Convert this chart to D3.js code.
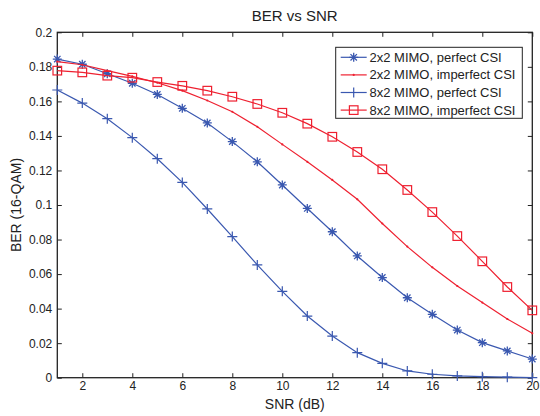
<!DOCTYPE html>
<html><head><meta charset="utf-8">
<script src="https://cdn.jsdelivr.net/npm/d3@7"></script>
<style>body{margin:0;background:#fff}svg{display:block}text{font-family:"Liberation Sans",Arial,sans-serif;fill:#222}</style>
</head><body><svg id="c" width="540" height="416"></svg>
<script>
const snr = [1,2,3,4,5,6,7,8,9,10,11,12,13,14,15,16,17,18,19,20];
const ber2x2Perfect = [0.1845,0.1815,0.176,0.1705,0.164,0.156,0.1475,0.1367,0.125,0.1116,0.098,0.0845,0.0705,0.058,0.0463,0.0367,0.0276,0.0203,0.0155,0.0108];
const ber2x2Imperfect = [0.183,0.1812,0.1778,0.1745,0.1708,0.1662,0.1605,0.154,0.1453,0.1351,0.125,0.1145,0.1033,0.0893,0.0759,0.0639,0.0531,0.0435,0.034,0.0257];
const ber8x2Perfect = [0.1666,0.159,0.15,0.139,0.1268,0.1131,0.0977,0.0817,0.0653,0.05,0.0357,0.0241,0.0145,0.0083,0.0039,0.002,0.001,0.0006,0.0003,0.0001];
const ber8x2Imperfect = [0.1778,0.1768,0.1749,0.1737,0.1712,0.169,0.1662,0.1627,0.1585,0.1534,0.1471,0.1395,0.1307,0.1207,0.1087,0.0959,0.082,0.0674,0.0525,0.039];
const seriesNames = ["2x2 MIMO, perfect CSI","2x2 MIMO, imperfect CSI","8x2 MIMO, perfect CSI","8x2 MIMO, imperfect CSI"];
const xTicks = [2,4,6,8,10,12,14,16,18,20];
const yTicks = [0,0.02,0.04,0.06,0.08,0.1,0.12,0.14,0.16,0.18,0.2];

const BLUE = "#3a58b0", RED = "#ee2030";
const series = [
  {name:seriesNames[0], values:ber2x2Perfect, color:BLUE, marker:"asterisk"},
  {name:seriesNames[1], values:ber2x2Imperfect, color:RED, marker:"dot"},
  {name:seriesNames[2], values:ber8x2Perfect, color:BLUE, marker:"plus"},
  {name:seriesNames[3], values:ber8x2Imperfect, color:RED, marker:"square"}
];

const L=57.3, R=532.3, T=32.3, B=377.7;
const svg = d3.select("#c");
const x = d3.scaleLinear().domain([1,20]).range([L,R]);
const y = d3.scaleLinear().domain([0,0.2]).range([B,T]);
const tl = 4.5;

const g = svg.append("g");
const fmtY = d => d===0?"0":String(+d.toFixed(2));
g.append("g").attr("transform",`translate(0,${B})`)
  .call(d3.axisBottom(x).tickValues(xTicks).tickSize(-tl).tickPadding(4).tickSizeOuter(0))
  .call(a=>{a.select(".domain").remove();a.selectAll("text").attr("font-size",12);});
g.append("g").attr("transform",`translate(0,${T})`)
  .call(d3.axisTop(x).tickValues(xTicks).tickSize(-tl).tickFormat("").tickSizeOuter(0))
  .call(a=>a.select(".domain").remove());
g.append("g").attr("transform",`translate(${L},0)`)
  .call(d3.axisLeft(y).tickValues(yTicks).tickSize(-tl).tickPadding(5).tickFormat(fmtY).tickSizeOuter(0))
  .call(a=>{a.select(".domain").remove();a.selectAll("text").attr("font-size",12);});
g.append("g").attr("transform",`translate(${R},0)`)
  .call(d3.axisRight(y).tickValues(yTicks).tickSize(-tl).tickFormat("").tickSizeOuter(0))
  .call(a=>a.select(".domain").remove());
g.selectAll(".tick line").attr("stroke","#222").attr("stroke-width",1);
g.append("rect").attr("x",L).attr("y",T).attr("width",R-L).attr("height",B-T)
  .attr("fill","none").attr("stroke","#222").attr("stroke-width",1.3);

const line = d3.line().x((d,i)=>x(snr[i])).y(d=>y(d));
const plot = svg.append("g");
function drawMarker(sel, type, color){
  if(type==="asterisk"){
    const s=4.5, d=3.2;
    sel.append("path").attr("d",`M${-s},0L${s},0M0,${-s}L0,${s}M${-d},${-d}L${d},${d}M${-d},${d}L${d},${-d}`)
      .attr("stroke",color).attr("stroke-width",1.3).attr("fill","none");
  } else if(type==="plus"){
    const s=5;
    sel.append("path").attr("d",`M${-s},0L${s},0M0,${-s}L0,${s}`)
      .attr("stroke",color).attr("stroke-width",1.2).attr("fill","none");
  } else if(type==="square"){
    sel.append("rect").attr("x",-4.3).attr("y",-4.3).attr("width",8.6).attr("height",8.6)
      .attr("stroke",color).attr("stroke-width",1.2).attr("fill","none");
  } else {
    sel.append("circle").attr("r",1.1).attr("fill",color);
  }
}
series.forEach(s=>{
  plot.append("path").attr("d",line(s.values)).attr("fill","none").attr("stroke",s.color).attr("stroke-width",1.2);
  s.values.forEach((v,i)=>{
    const m = plot.append("g").attr("transform",`translate(${x(snr[i])},${y(v)})`);
    drawMarker(m, s.marker, s.color);
  });
});

const lg = svg.append("g");
lg.append("rect").attr("x",335.7).attr("y",47.3).attr("width",186.6).attr("height",71)
  .attr("fill","#fff").attr("stroke","#222").attr("stroke-width",1);
series.forEach((s,i)=>{
  const yy = 57.3 + i*17.6;
  lg.append("line").attr("x1",340.7).attr("x2",366.7).attr("y1",yy).attr("y2",yy).attr("stroke",s.color).attr("stroke-width",1.2);
  drawMarker(lg.append("g").attr("transform",`translate(353.7,${yy})`), s.marker, s.color);
  lg.append("text").attr("x",369.5).attr("y",yy).attr("dy","0.35em").attr("font-size",13).text(s.name);
});

svg.append("text").attr("x",(L+R)/2).attr("y",16).attr("dy","0.35em").attr("text-anchor","middle").attr("font-size",15).text("BER vs SNR");
svg.append("text").attr("x",(L+R)/2).attr("y",404).attr("dy","0.35em").attr("text-anchor","middle").attr("font-size",14).text("SNR (dB)");
svg.append("text").attr("transform",`translate(16,${(T+B)/2}) rotate(-90)`).attr("dy","0.35em").attr("text-anchor","middle").attr("font-size",14).text("BER (16-QAM)");
</script></body></html>
